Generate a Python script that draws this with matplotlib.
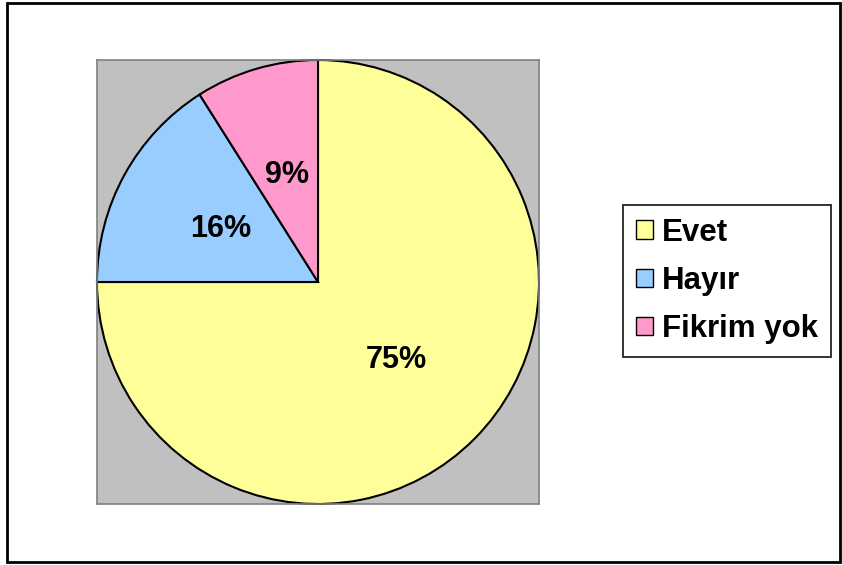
import matplotlib
matplotlib.use("Agg")
import matplotlib.pyplot as plt
from matplotlib.patches import Rectangle

labels = ["Evet", "Hayır", "Fikrim yok"]
values = [75, 16, 9]
colors = ["#FFFF99", "#99CCFF", "#FF99CC"]

plt.rcParams["font.family"] = ["Liberation Sans", "DejaVu Sans"]

fig = plt.figure(figsize=(8.42, 5.65), dpi=100)
fig.patch.set_facecolor("white")

# outer chart frame
fig.patches.append(Rectangle((7 / 842, 3 / 565), 833 / 842, 559 / 565,
                             transform=fig.transFigure, fill=False,
                             edgecolor="black", linewidth=2))

ax = fig.add_axes([97 / 842, 61 / 565, 442 / 842, 444 / 565])

wedges, texts, autotexts = ax.pie(
    values, colors=colors, startangle=90, counterclock=False,
    autopct="%1.0f%%", pctdistance=0.5, radius=1.0,
    wedgeprops=dict(edgecolor="black", linewidth=1.5),
    textprops=dict(fontsize=22, fontweight="bold", color="black"))
ax.set_xlim(-1.0, 1.0)
ax.set_ylim(-1.0, 1.0)
ax.set_aspect("auto")
ax.set_frame_on(True)
ax.set_facecolor("#C0C0C0")
for s in ax.spines.values():
    s.set_visible(True)
    s.set_edgecolor("#808080")
    s.set_linewidth(1.2)
ax.set_xticks([])
ax.set_yticks([])

leg = fig.legend(wedges, labels, loc="center left",
                 bbox_to_anchor=(623 / 842, 1 - 281 / 565),
                 prop=dict(size=22.5, weight="bold"),
                 frameon=True, fancybox=False, edgecolor="black",
                 handlelength=0.55, handleheight=0.55, handletextpad=0.3,
                 labelspacing=0.58, borderpad=0.4, borderaxespad=0)
leg.get_frame().set_linewidth(1.4)
for h in leg.legend_handles:
    h.set_linewidth(1.0)

fig.savefig("out.png", dpi=100)
